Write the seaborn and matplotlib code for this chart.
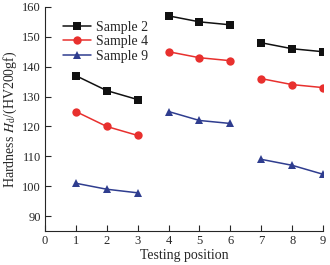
import pandas as pd
import matplotlib
matplotlib.use("Agg")
import matplotlib.pyplot as plt
import seaborn as sns

positions = [1, 2, 3, 4, 5, 6, 7, 8, 9]
groups = ["A", "A", "A", "B", "B", "B", "C", "C", "C"]
sample2 = [137, 132, 129, 157, 155, 154, 148, 146, 145]
sample4 = [125, 120, 117, 145, 143, 142, 136, 134, 133]
sample9 = [101, 99, 97.8, 125, 122, 121, 109, 107, 104]

rows = []
for name, vals in [("Sample 2", sample2), ("Sample 4", sample4), ("Sample 9", sample9)]:
    for p, g, v in zip(positions, groups, vals):
        rows.append({"pos": p, "hardness": v, "sample": name, "group": g})
df = pd.DataFrame(rows)

sns.set_style("ticks")
plt.rcParams["font.family"] = ["Liberation Serif", "DejaVu Serif"]
plt.rcParams["mathtext.fontset"] = "stix"

colors = {"Sample 2": "#111111", "Sample 4": "#e8302e", "Sample 9": "#2f3d8f"}
markers = {"Sample 2": "s", "Sample 4": "o", "Sample 9": "^"}

fig = plt.figure(figsize=(3.3, 2.65), dpi=100)
ax = fig.add_axes([0.136, 0.128, 0.843, 0.846])

sns.lineplot(data=df, x="pos", y="hardness", hue="sample", style="sample",
             units="group", estimator=None, palette=colors, markers=markers,
             dashes=False, markersize=6, markeredgewidth=0, linewidth=1.1, ax=ax)

ax.set_xlim(0, 9)
ax.set_ylim(85, 160)
ax.set_xticks(range(0, 10))
ax.set_yticks(range(90, 161, 10))
ax.tick_params(direction="in", length=4, width=0.8, labelsize=9, pad=3)
for s in ["top", "right"]:
    ax.spines[s].set_visible(False)
for s in ["left", "bottom"]:
    ax.spines[s].set_linewidth(0.8)

ax.set_xlabel("Testing position", fontsize=10, labelpad=1)
ax.set_ylabel(r"Hardness $H_\mathrm{d}$/(HV200gf)", fontsize=10, labelpad=2)

ax.legend(loc="upper left", bbox_to_anchor=(0.035, 0.975), frameon=False,
          fontsize=10, handlelength=2.0, handletextpad=0.35,
          labelspacing=0.1, borderaxespad=0.2, title=None)

fig.savefig("out.png", dpi=100)
